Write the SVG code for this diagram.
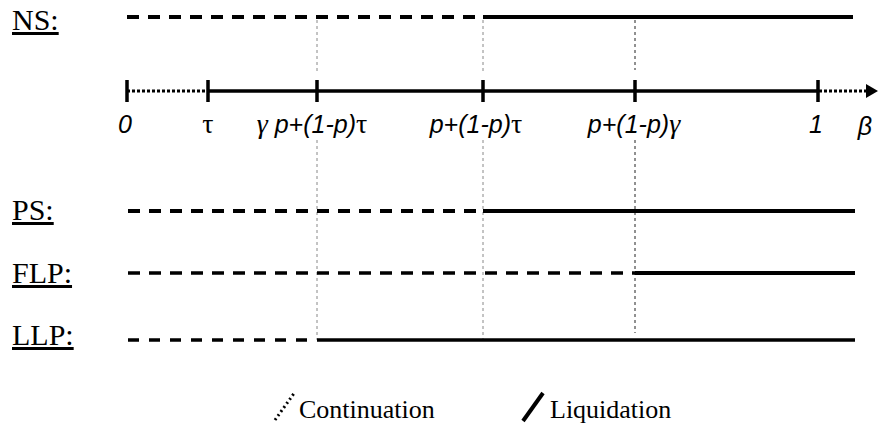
<svg xmlns="http://www.w3.org/2000/svg" width="879" height="430" viewBox="0 0 879 430">
<style>
.lbl{font-family:"Liberation Serif",serif;font-size:30px;fill:#000;text-decoration:underline}
.ax{font-family:"Liberation Sans",Arial,sans-serif;font-size:25px;font-style:italic;fill:#000}
.gr{font-family:"Liberation Serif",serif;font-size:28px}
.leg{font-family:"Liberation Serif",serif;font-size:26px;fill:#000}
.cont{stroke:#000;stroke-width:4;stroke-dasharray:12 9;fill:none}
.liq{stroke:#000;stroke-width:4;fill:none}
.guide{stroke:#888;stroke-width:1;stroke-dasharray:3 3;fill:none}
</style>
<defs>
<marker id="arr" markerWidth="12" markerHeight="14" refX="1" refY="7" orient="auto" markerUnits="userSpaceOnUse">
<path d="M0,0 L12,7 L0,14 Z" fill="#000"/>
</marker>
</defs>
<g id="guides">
<path class="guide" d="M317,20V74 M317,140V340"/>
<path class="guide" d="M483,20V74 M483,140V340"/>
<path class="guide" d="M635,20V70 M635,140V333" style="stroke:#222"/>
</g>
<g id="NS">
<text class="lbl" x="12" y="30">NS:</text>
<path class="cont" d="M127,17H483"/>
<path class="liq" d="M483,17H853"/>
</g>
<g id="axis">
<path d="M127,91H208" stroke="#000" stroke-width="3" stroke-dasharray="3 2" fill="none"/>
<path d="M208,91H818" stroke="#000" stroke-width="3.5" fill="none"/>
<path d="M819,91H867" stroke="#000" stroke-width="3" stroke-dasharray="3 2" fill="none" marker-end="url(#arr)"/>
<path d="M127,80V102 M208,80V102 M317,80V102 M483,80V102 M635,80V102 M818,80V102" stroke="#000" stroke-width="3.5"/>
<text class="ax" x="125" y="133" text-anchor="middle">0</text>
<text class="ax" x="208" y="133" text-anchor="middle"><tspan class="gr" font-style="normal">τ</tspan></text>
<text class="ax" x="312" y="133" text-anchor="middle"><tspan class="gr">γ</tspan> p+(1-p)<tspan class="gr" font-style="normal">τ</tspan></text>
<text class="ax" x="476" y="133" text-anchor="middle">p+(1-p)<tspan class="gr" font-style="normal">τ</tspan></text>
<text class="ax" x="634" y="133" text-anchor="middle">p+(1-p)<tspan class="gr">γ</tspan></text>
<text class="ax" x="816" y="133" text-anchor="middle">1</text>
<text class="ax" x="865" y="135" text-anchor="middle">β</text>
</g>
<g id="PS">
<text class="lbl" x="12" y="220">PS:</text>
<path class="cont" d="M128,211H483"/>
<path class="liq" d="M483,211H855"/>
</g>
<g id="FLP">
<text class="lbl" x="12" y="283">FLP:</text>
<path class="cont" d="M128,273H635" style="stroke-width:3.5;stroke-dasharray:12 9"/>
<path class="liq" d="M635,273H855"/>
</g>
<g id="LLP">
<text class="lbl" x="12" y="345">LLP:</text>
<path class="cont" d="M128,340H317" style="stroke-width:3.5;stroke-dasharray:11 10"/>
<path class="liq" d="M317,340H855" style="stroke-width:3.5"/>
</g>
<g id="legend">
<path d="M275,420L295,392" stroke="#000" stroke-width="3" stroke-dasharray="2 3" fill="none"/>
<text class="leg" x="299" y="418">Continuation</text>
<path d="M523,421L543,393" stroke="#000" stroke-width="4" fill="none"/>
<text class="leg" x="550" y="418">Liquidation</text>
</g>
</svg>
